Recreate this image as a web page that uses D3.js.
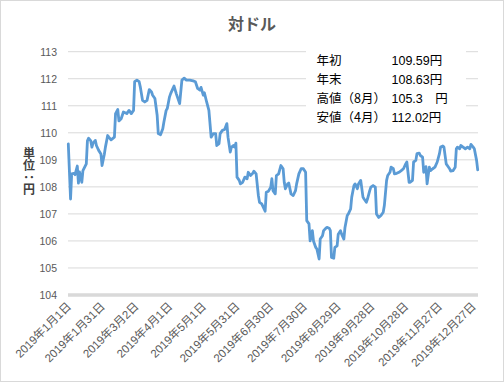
<!DOCTYPE html>
<html><head><meta charset="utf-8">
<script src="https://cdn.jsdelivr.net/npm/d3@7"></script>
<style>body{margin:0;background:#fff} svg{display:block}</style>
</head><body><svg id="c" width="504" height="382"></svg>
<script>
const title = "対ドル";
const dayOffsets = [0,2,3,5,6,8,9,10,12,13,16,17,18,20,21,22,24,25,27,29,30,32,33,35,36,38,41,42,44,45,47,49,52,54,56,58,59,61,63,64,66,68,70,72,74,75,77,79,80,82,84,85,87,88,90,91,93,94,96,99,101,103,105,108,111,113,115,117,118,120,121,123,125,126,127,129,131,132,134,135,137,139,141,142,144,145,147,148,149,150,152,153,155,157,159,160,162,164,165,167,169,170,172,175,176,178,180,181,182,184,185,187,189,191,192,193,195,196,198,200,202,203,205,207,209,211,212,214,215,217,218,220,221,223,224,226,227,229,230,232,233,234,236,237,239,240,242,243,245,246,248,249,251,252,254,255,257,258,260,262,263,265,266,268,269,271,273,274,276,278,280,281,283,284,286,287,289,290,292,294,296,298,300,301,303,304,306,307,309,310,312,313,315,316,318,319,321,322,324,326,328,330,331,333,334,336,337,339,340,342,344,345,346,348,349,351,353,355,357,358,360,361,363,364];
const rates = [109.59,107.55,108.48,108.5,108.45,108.77,108.14,108.55,108.17,108.6,108.85,109.7,109.8,109.7,109.47,109.62,109.72,109.53,109.35,109.22,108.79,109.2,109.47,109.9,109.84,109.74,109.84,110.71,110.86,110.44,110.52,110.77,110.71,110.83,110.71,110.83,111.89,111.95,111.89,111.7,111.2,111.14,111.2,111.6,111.51,111.39,111.27,110.65,109.97,109.93,110.15,110.4,110.83,110.9,111.33,111.45,111.64,111.73,111.45,111.08,111.95,112.02,111.95,111.95,111.92,111.89,111.64,111.58,111.68,111.39,111.48,111.14,110.83,110.34,109.84,109.97,109.97,109.53,109.6,109.97,110.09,110.12,110.34,109.84,109.29,109.47,109.53,109.47,109.62,108.36,108.24,108.11,108.17,108.36,108.3,108.54,108.42,108.5,108.58,108.48,107.68,107.43,107.37,107.1,107.8,107.84,107.99,108.3,107.86,107.74,108.42,108.48,108.79,108.67,108.17,107.93,108.11,108.14,107.74,107.68,107.86,108.11,108.48,108.67,108.67,108.54,106.75,106.63,106.0,106.38,106.0,105.76,105.7,105.33,106.07,106.19,106.38,106.47,106.5,106.47,106.38,105.39,105.36,105.76,105.82,106.25,106.38,106.25,106.07,106.5,106.94,107.0,107.18,107.62,108.05,108.11,107.93,108.11,108.24,107.62,107.55,107.43,107.55,107.86,107.99,108.05,107.99,107.0,106.87,106.94,107.06,107.31,108.24,108.42,108.54,108.73,108.67,108.48,108.5,108.54,108.6,108.67,108.85,108.92,108.17,108.17,108.24,108.92,108.98,109.23,109.25,109.16,109.1,108.54,108.75,108.11,108.73,108.6,108.67,108.73,108.92,109.23,109.47,109.51,109.47,108.85,108.79,108.67,108.58,108.6,108.73,109.41,109.47,109.41,109.53,109.47,109.41,109.47,109.41,109.57,109.47,109.41,108.98,108.63];
const tickDays = [0,30,60,90,120,150,180,210,240,270,300,330,360];
const tickLabels = ["2019年1月1日","2019年1月31日","2019年3月2日","2019年4月1日","2019年5月1日","2019年5月31日","2019年6月30日","2019年7月30日","2019年8月29日","2019年9月28日","2019年10月28日","2019年11月27日","2019年12月27日"];
const yTicks = [104,105,106,107,108,109,110,111,112,113];
const yAxisTitle = "単位：円";
const legendLabels = ["年初","年末","高値（8月）","安値（4月）"];
const legendValues = ["109.59円","108.63円","105.3　円","112.02円"];

const svg = d3.select("#c");
const font = "'Liberation Sans','Noto Sans CJK JP',sans-serif";
const x = d3.scaleLinear().domain([0,364]).range([68.3,477.7]);
const y = d3.scaleLinear().domain([104,113]).range([295,51.7]);

svg.append("rect").attr("x",0.5).attr("y",0.5).attr("width",503).attr("height",381)
  .attr("fill","#fff").attr("stroke","#d9d9d9");

svg.append("text").attr("x",252).attr("y",30).attr("text-anchor","middle")
  .attr("font-family","'Noto Sans CJK JP',sans-serif").attr("font-size",16).attr("font-weight","bold")
  .attr("fill","#595959").text(title);

// gridlines
svg.append("g").selectAll("line").data(yTicks.filter(d=>d>104)).join("line")
  .attr("x1",68).attr("x2",478).attr("y1",d=>y(d)).attr("y2",d=>y(d))
  .attr("stroke","#d9d9d9").attr("stroke-width",1);

// y axis labels
const yAxis = d3.axisLeft(y).tickValues(yTicks).tickSize(0).tickPadding(0).tickFormat(d3.format("d"));
const ga = svg.append("g").attr("transform","translate(57,0)").call(yAxis);
ga.select(".domain").remove();
ga.selectAll("text").attr("font-family",font).attr("font-size",10.5).attr("fill","#595959").attr("dy","0.35em");

// axis line at 104
svg.append("line").attr("x1",68).attr("x2",478).attr("y1",y(104)).attr("y2",y(104))
  .attr("stroke","#d9d9d9").attr("stroke-width",3.5);

// legend box background
svg.append("rect").attr("x",306).attr("y",44).attr("width",160).attr("height",84).attr("fill","#fff");

// line
const pts = dayOffsets.map((d,i)=>[d,rates[i]]);
svg.append("path").datum(pts)
  .attr("d", d3.line().x(d=>x(d[0])).y(d=>y(d[1])))
  .attr("fill","none").attr("stroke","#5b9bd5").attr("stroke-width",2.8)
  .attr("stroke-linejoin","round").attr("stroke-linecap","round");

// x labels
const xAxis = d3.axisBottom(x).tickValues(tickDays).tickSize(0).tickPadding(0).tickFormat((d,i)=>tickLabels[i]);
const gx = svg.append("g").attr("transform",`translate(0,${y(104)})`).call(xAxis);
gx.select(".domain").remove();
gx.selectAll("text").attr("font-family",font).attr("font-size",11.5).attr("fill","#595959")
  .attr("text-anchor","end").attr("dy",0).attr("y",0)
  .attr("transform","translate(3,12) rotate(-45)");

// y axis title
svg.append("text").attr("x",29).attr("y",147)
  .attr("font-family","'Noto Sans CJK JP',sans-serif").attr("font-size",12).attr("font-weight","bold")
  .attr("fill","#404040").style("writing-mode","vertical-rl").style("text-orientation","upright")
  .text(yAxisTitle);

// legend text
const lg = svg.append("g");
legendLabels.forEach((t,i)=>{
  lg.append("text").attr("x",316.5).attr("y",65+i*19.1).attr("font-family","'Noto Sans CJK JP',sans-serif")
    .attr("font-size",12.5).attr("fill","#000").text(t);
  lg.append("text").attr("x",391.5).attr("y",65+i*19.1).attr("font-family",font)
    .attr("font-size",12.5).attr("fill","#000").text(legendValues[i]);
});
</script></body></html>
